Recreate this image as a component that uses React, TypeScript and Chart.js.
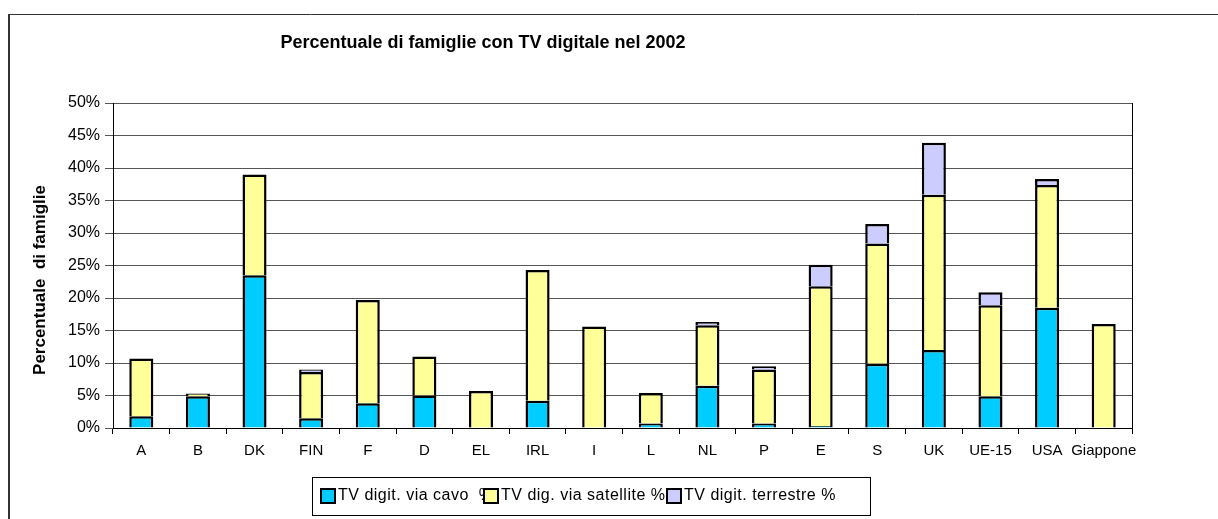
import React, { useEffect, useRef } from "react";
import { Chart, registerables } from "chart.js";

Chart.register(...registerables);

const categories = ["A", "B", "DK", "FIN", "F", "D", "EL", "IRL", "I", "L", "NL", "P", "E", "S", "UK", "UE-15", "USA", "Giappone"];
const cavo = [1.8, 4.9, 23.5, 1.5, 3.8, 5.0, 0, 4.2, 0, 0.7, 6.5, 0.7, 0.3, 9.9, 12.0, 4.9, 18.5, 0];
const satellite = [8.9, 0.4, 15.5, 7.1, 15.9, 6.0, 5.7, 20.1, 15.6, 4.7, 9.3, 8.3, 21.5, 18.5, 23.9, 14.0, 18.9, 16.0];
const terrestre = [0, 0, 0, 0.4, 0, 0, 0, 0, 0, 0, 0.5, 0.5, 3.3, 3.0, 8.0, 2.0, 0.9, 0];
const seriesLabels = ["TV digit. via cavo  %", "TV dig. via satellite %", "TV digit. terrestre %"];
const seriesColors = ["#00CCFF", "#FFFF99", "#CCCCFF"];
const yTicks = [0, 5, 10, 15, 20, 25, 30, 35, 40, 45, 50];
const titleText = "Percentuale di famiglie con TV digitale nel 2002";
const yTitleText = "Percentuale  di famiglie";

const FONT = "'Liberation Sans', Arial, Helvetica, sans-serif";

const decor = {
  id: "decor",
  afterDraw(chart: any) {
    const ctx = chart.ctx as CanvasRenderingContext2D;
    const { right, top, bottom } = chart.chartArea;
    ctx.save();
    // plot area right border
    ctx.strokeStyle = "#000";
    ctx.lineWidth = 1;
    ctx.beginPath();
    ctx.moveTo(Math.round(right) + 0.5, top);
    ctx.lineTo(Math.round(right) + 0.5, bottom);
    ctx.stroke();
    // outer frame (left and top edges visible)
    ctx.strokeStyle = "#333";
    ctx.lineWidth = 2;
    ctx.beginPath();
    ctx.moveTo(9, 14);
    ctx.lineTo(9, 519);
    ctx.stroke();
    ctx.lineWidth = 1;
    ctx.beginPath();
    ctx.moveTo(8, 14.5);
    ctx.lineTo(1218, 14.5);
    ctx.stroke();
    // chart title
    ctx.fillStyle = "#000";
    ctx.font = `bold 18px ${FONT}`;
    ctx.textAlign = "center";
    ctx.textBaseline = "middle";
    ctx.fillText(titleText, 483, 43);
    // y axis title
    ctx.save();
    ctx.translate(40, 280);
    ctx.rotate(-Math.PI / 2);
    ctx.font = `bold 17px ${FONT}`;
    ctx.fillText(yTitleText, 0, 0);
    ctx.restore();
    // legend
    const boxL = 312, boxT = 477, boxR = 870, boxB = 515;
    ctx.fillStyle = "#fff";
    ctx.fillRect(boxL, boxT, boxR - boxL, boxB - boxT);
    ctx.strokeStyle = "#000";
    ctx.lineWidth = 1;
    ctx.strokeRect(boxL + 0.5, boxT + 0.5, boxR - boxL, boxB - boxT);
    const itemX = [320, 483, 666];
    const cy = 496;
    const ds = chart.data.datasets;
    ctx.font = `16px ${FONT}`;
    (ctx as any).letterSpacing = "0.5px";
    ctx.textAlign = "left";
    ctx.textBaseline = "middle";
    for (let i = 0; i < ds.length; i++) {
      const x = itemX[i];
      ctx.fillStyle = "#000";
      ctx.fillRect(x, cy - 8, 16, 16);
      ctx.fillStyle = ds[i].backgroundColor;
      ctx.fillRect(x + 2, cy - 6, 12, 12);
      ctx.save();
      const clipEnd = i + 1 < itemX.length ? itemX[i + 1] : boxR;
      ctx.beginPath();
      ctx.rect(x + 16, boxT, clipEnd - x - 16, boxB - boxT);
      ctx.clip();
      ctx.fillStyle = "#000";
      ctx.fillText(ds[i].label, x + 18, cy);
      ctx.restore();
    }
    ctx.restore();
  },
};

export default function App() {
  const ref = useRef<HTMLCanvasElement>(null);
  useEffect(() => {
    if (!ref.current) return;
    const border = { top: 2.5, left: 2.5, right: 2.5, bottom: 0 };
    const chart = new Chart(ref.current, {
      type: "bar",
      data: {
        labels: categories,
        datasets: [cavo, satellite, terrestre].map((d, i) => ({
          label: seriesLabels[i],
          data: d,
          backgroundColor: seriesColors[i],
          borderColor: "#000",
          borderWidth: border,
          borderSkipped: false,
          barPercentage: 0.85,
          categoryPercentage: 0.5,
        })),
      },
      options: {
        responsive: false,
        animation: false,
        layout: { padding: { left: 0, top: 103, right: 86, bottom: 0 } },
        plugins: {
          legend: { display: false },
          title: { display: false },
          tooltip: { enabled: false },
        },
        scales: {
          x: {
            stacked: true,
            grid: { display: true, drawOnChartArea: false, drawTicks: true, tickLength: 6, color: "#000", offset: true },
            border: { display: true, color: "#000", width: 1 },
            ticks: { color: "#000", font: { family: FONT, size: 15 }, padding: 8, maxRotation: 0, autoSkip: false },
            afterFit: (s: any) => { s.height = 91; },
          },
          y: {
            stacked: true,
            min: 0,
            max: 50,
            afterBuildTicks: (s: any) => { s.ticks = yTicks.map((v) => ({ value: v })); },
            grid: { color: "#555", tickLength: 8, drawTicks: true },
            border: { display: true, color: "#000", width: 1 },
            ticks: { color: "#000", font: { family: FONT, size: 16 }, padding: 5, callback: (v: any) => v + "%" },
            afterFit: (s: any) => { s.width = 113; },
          },
        },
      },
      plugins: [decor],
    });
    return () => chart.destroy();
  }, []);
  return (
    <div style={{ position: "fixed", left: 0, top: 0, width: 1218, height: 519, background: "#fff" }}>
      <canvas ref={ref} width={1218} height={519} style={{ display: "block" }} />
    </div>
  );
}
